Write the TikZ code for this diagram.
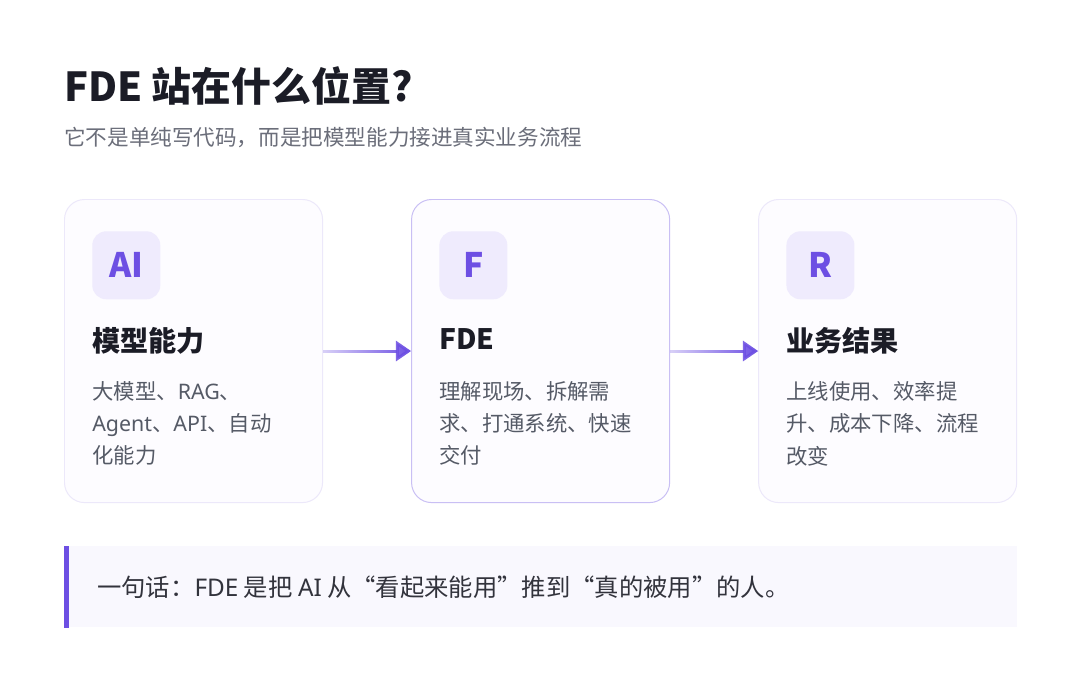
\documentclass[tikz,border=0pt]{standalone}
\usepackage{fontspec}
\setmainfont{Noto Sans CJK SC}
\newfontfamily\latinfont{Noto Sans}
\newcommand{\en}[1]{{\latinfont #1}}
\usetikzlibrary{positioning, arrows.meta, fadings}

\definecolor{ink}{HTML}{1B1C26}
\definecolor{subgray}{HTML}{6B6E7A}
\definecolor{bodygray}{HTML}{555A66}
\definecolor{fdeviolet}{HTML}{6D4FE3}
\definecolor{iconbg}{HTML}{EFEBFD}
\definecolor{cardline}{HTML}{ECE8FA}
\definecolor{cardlinehi}{HTML}{C9BFF4}
\definecolor{cardfill}{HTML}{FDFCFF}
\definecolor{bannerbg}{HTML}{F9F8FE}
\definecolor{cardshade}{HTML}{7A6CC0}

\tikzfading[name=fadeinright, left color=transparent!75, right color=transparent!0]

\pgfdeclarelayer{bg}
\pgfsetlayers{bg,main}

\begin{document}
\begin{tikzpicture}[x=0.025cm, y=-0.025cm, node distance=2.2cm,
    card/.style={draw=cardline, line width=0.7pt, fill=cardfill, rounded corners=0.5cm,
      minimum width=6.45cm, minimum height=7.575cm, inner sep=0pt},
    icon/.style={anchor=north west, fill=iconbg, rounded corners=0.35cm, minimum size=1.7cm,
      inner sep=0pt, text=fdeviolet, font=\fontsize{24}{24}\selectfont\bfseries},
    cardtitle/.style={anchor=north west, inner sep=0pt, text=ink,
      font=\fontsize{20}{24}\selectfont\bfseries},
    cardtext/.style={anchor=north west, inner sep=0pt, align=left, text=bodygray,
      font=\fontsize{15.2}{23}\selectfont},
    flow/.style={-{Triangle[length=0.38cm, width=0.5cm]}, line width=0.075cm,
      fdeviolet, path fading=fadeinright}]

  \fill[white] (0,0) rectangle (1080,684);
  \useasboundingbox (0,0) rectangle (1080,684);

  % heading
  \node (headline) [anchor=north west, inner sep=0pt, text=ink,
    font=\fontsize{28.4}{32}\selectfont\bfseries] at (64,66) {FDE 站在什么位置?};
  \node (subline) [anchor=north west, inner sep=0pt, text=subgray,
    font=\fontsize{15.35}{18}\selectfont] at (64,127) {它不是单纯写代码，而是把模型能力接进真实业务流程};

  % the three cards
  \node (card1) [card, anchor=north west] at (64,199) {};
  \node (card2) [card, draw=cardlinehi, right=of card1] {};
  \node (card3) [card, right=of card2] {};

  \node (icon1) [icon] at ([shift={(28,32)}]card1.north west) {AI};
  \node (title1) [cardtitle] at ([shift={(28,128)}]card1.north west) {模型能力};
  \node (text1) [cardtext] at ([shift={(28,182)}]card1.north west)
    {大模型、\en{RAG}、\\\en{Agent}、\en{API}、自动\\化能力};

  \node (icon2) [icon] at ([shift={(28,32)}]card2.north west) {F};
  \node (title2) [cardtitle] at ([shift={(28,129)}]card2.north west) {FDE};
  \node (text2) [cardtext] at ([shift={(28,182)}]card2.north west)
    {理解现场、拆解需\\求、打通系统、快速\\交付};

  \node (icon3) [icon] at ([shift={(28,32)}]card3.north west) {R};
  \node (title3) [cardtitle] at ([shift={(28,128)}]card3.north west) {业务结果};
  \node (text3) [cardtext] at ([shift={(28,182)}]card3.north west)
    {上线使用、效率提\\升、成本下降、流程\\改变};

  % soft shadows
  \begin{pgfonlayer}{bg}
    \foreach \c in {card1,card2,card3}
      \foreach \i in {1,...,12}
        \fill[cardshade, opacity=0.014, rounded corners=(20+3*\i)*0.025cm]
          ([shift={(-3*\i,-3*\i+14)}]\c.north west)
          rectangle ([shift={(3*\i,3*\i+14)}]\c.south east);
  \end{pgfonlayer}

  % the two move-tos widen the box of the fading so the tip is kept
  \draw[flow] ([yshift=0.3cm]card1.east) ([yshift=-0.3cm]card1.east) (card1) -- (card2);
  \draw[flow] ([yshift=0.3cm]card2.east) ([yshift=-0.3cm]card2.east) (card2) -- (card3);

  % summary banner
  \node (banner) [anchor=north west, fill=bannerbg, minimum width=23.8cm,
    minimum height=2.025cm, inner sep=0pt] at (64,546) {};
  \fill[fdeviolet] (banner.north west) rectangle ([xshift=0.125cm]banner.south west);
  \node (motto) [anchor=west, inner sep=0pt, text=ink!90,
    font=\fontsize{17.3}{20}\selectfont] at ([xshift=0.825cm]banner.west)
    {一句话：\en{FDE} 是把 \en{AI} 从“看起来能用”推到“真的被用”的人。};

\end{tikzpicture}
\end{document}
